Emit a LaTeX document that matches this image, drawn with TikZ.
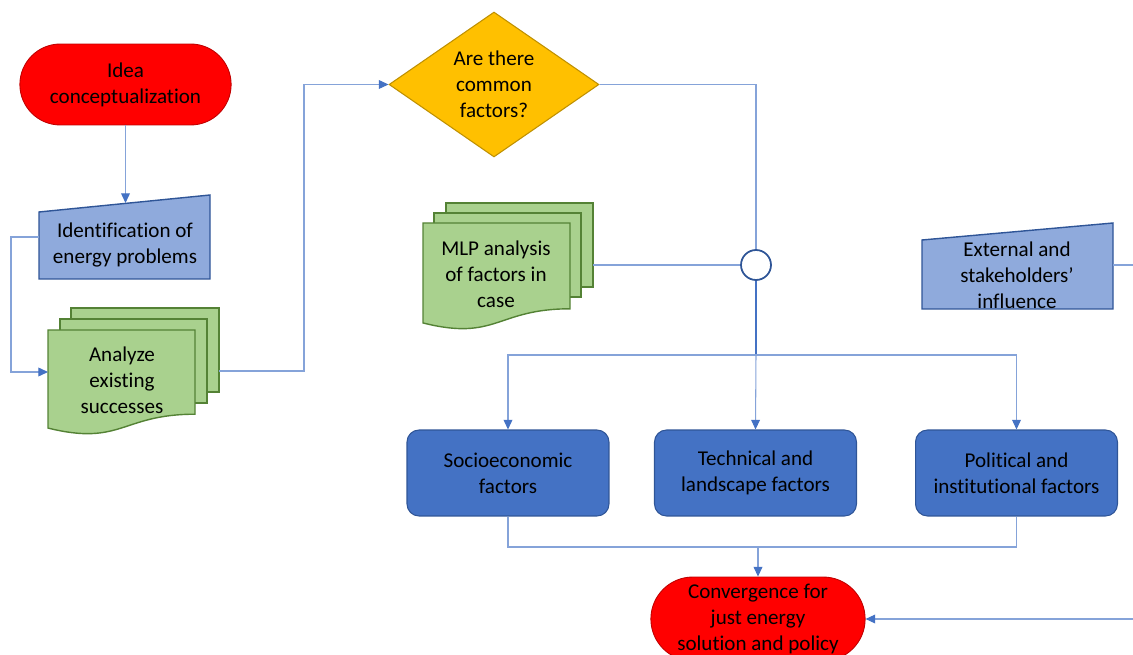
\documentclass[tikz,border=0pt]{standalone}
\usepackage{fontspec}
\setmainfont{Carlito}[Ligatures={TeX,NoCommon}]
\usetikzlibrary{positioning, arrows.meta, calc, shapes.geometric, shapes.misc}
\definecolor{termred}{RGB}{255,0,0}
\definecolor{termedge}{RGB}{192,0,0}
\definecolor{inputblue}{RGB}{143,170,220}
\definecolor{darkblue}{RGB}{47,85,151}
\definecolor{docgreen}{RGB}{169,209,142}
\definecolor{docedge}{RGB}{84,130,53}
\definecolor{decamber}{RGB}{255,192,0}
\definecolor{decedge}{RGB}{191,144,0}
\definecolor{factorblue}{RGB}{68,114,196}

% page with a wavy bottom: x, y (top left), width, height
\newcommand{\docpage}[4]{%
  \filldraw[page] (#1,#2) -- (#1+#3,#2) -- (#1+#3,#2+0.802*#4)
    .. controls (#1+0.5*#3,#2+0.802*#4) and (#1+0.5*#3,#2+1.1075*#4) .. (#1,#2+0.934*#4) -- cycle;}
% manual input: x, y (top right), width, height, slant
\newcommand{\maninput}[5]{%
  \filldraw[manual] (#1,#2+#5) -- (#1+#3,#2) -- (#1+#3,#2+#4) -- (#1,#2+#4) -- cycle;}

\begin{document}
\begin{tikzpicture}[x=0.02cm, y=-0.02cm,
        >={Triangle[length=5.5pt, width=5pt, color=factorblue]},
        font=\fontsize{12}{14.7}\selectfont,
        terminal/.style={rounded rectangle, fill=termred, draw=termedge, line width=0.5pt,
          minimum width=4.46cm, minimum height=1.62cm, align=center},
        decision/.style={diamond, shape aspect=1.45, fill=decamber, draw=decedge, line width=0.6pt,
          minimum width=4.2cm, minimum height=2.9cm, inner sep=0pt, align=center},
        factor/.style={rectangle, rounded corners=0.24cm, fill=factorblue, draw=darkblue, line width=0.6pt,
          minimum width=4.04cm, minimum height=1.72cm, align=center},
        page/.style={fill=docgreen, draw=docedge, line width=0.8pt},
        manual/.style={fill=inputblue, draw=darkblue, line width=0.8pt},
        txt/.style={align=center, inner sep=0pt},
        link/.style={draw=factorblue!65, line width=0.6pt},
        arrow/.style={link, ->}]
  \useasboundingbox (0,0) rectangle (1133,655);
  \clip (0,0) rectangle (1133,655);

  % left column
  \node[terminal] (idea) at (125.5,84.5) {Idea\\conceptualization};
  \maninput{39}{195}{171}{84}{17}
  \node[txt] (ident) at (125,245) {Identification of\\energy problems};
  \filldraw[page] (71,308) rectangle (219,392);
  \filldraw[page] (60,319) rectangle (207,403);
  \docpage{48}{330}{147}{105}
  \node[txt] (analyze) at (122,380) {Analyze\\existing\\successes};
  \coordinate (ident-n) at (125,203);
  \coordinate (ident-w) at (39,237);
  \coordinate (analyze-w) at (48,372);
  \coordinate (analyze-e) at (219,371);

  % decision and MLP
  \node[decision] (dec) at (494,84.5) {Are there\\common\\factors?};
  \filldraw[page] (446,203) rectangle (593,287);
  \filldraw[page] (434,213) rectangle (581,297);
  \docpage{423}{223}{147}{107}
  \node[txt] (mlp) at (496,274) {MLP analysis\\of factors in\\case};
  \coordinate (mlp-e) at (593,265);
  \node[circle, fill=white, draw=darkblue, line width=1pt, minimum size=0.6cm, inner sep=0pt] (join) at (756,265) {};

  \maninput{922}{223}{191}{86}{17}
  \node[txt] (ext) at (1017,275) {External and\\stakeholders'\\influence};
  \coordinate (ext-e) at (1113,265);
  \coordinate (edge-r) at (1133,265);

  % factors
  \node[factor] (socio) at (508,473) {Socioeconomic\\factors};
  \node[factor] (tech) at (755.5,473) {Technical and\\landscape factors};
  \node[factor] (polit) at (1016.5,473) {Political and\\institutional factors};
  \node[terminal, minimum width=4.52cm, minimum height=1.68cm] (conv) at (758,619)
    {Convergence for\\just energy\\solution and policy};
  \coordinate (split) at (756,355);
  \coordinate (merge) at (758,547);
  \coordinate (edge-in) at (1133,619);

  \draw[arrow] (idea.south) -- (idea.south |- ident-n);
  \draw[arrow] (ident-w) -- ++(-28,0) |- (analyze-w);
  \draw[arrow] (analyze-e) -- ++(85,0) |- (dec.west);
  \draw[link] (dec.east) -| (join.north);
  \draw[link] (mlp-e) -- (join.west);
  \draw[draw=factorblue, line width=1pt] (join.south) -- (split);
  \draw[arrow] (split) -| (socio.north);
  \draw[arrow] (split) -| (polit.north);
  \draw[arrow] (split) -- (tech.north);
  \draw[link] (socio.south) |- (merge) -| (polit.south);
  \draw[arrow] (merge) -- (conv.north);
  \draw[link] (ext-e) -- (edge-r);
  \draw[arrow] (edge-in) -- (conv.east);
\end{tikzpicture}
\end{document}
